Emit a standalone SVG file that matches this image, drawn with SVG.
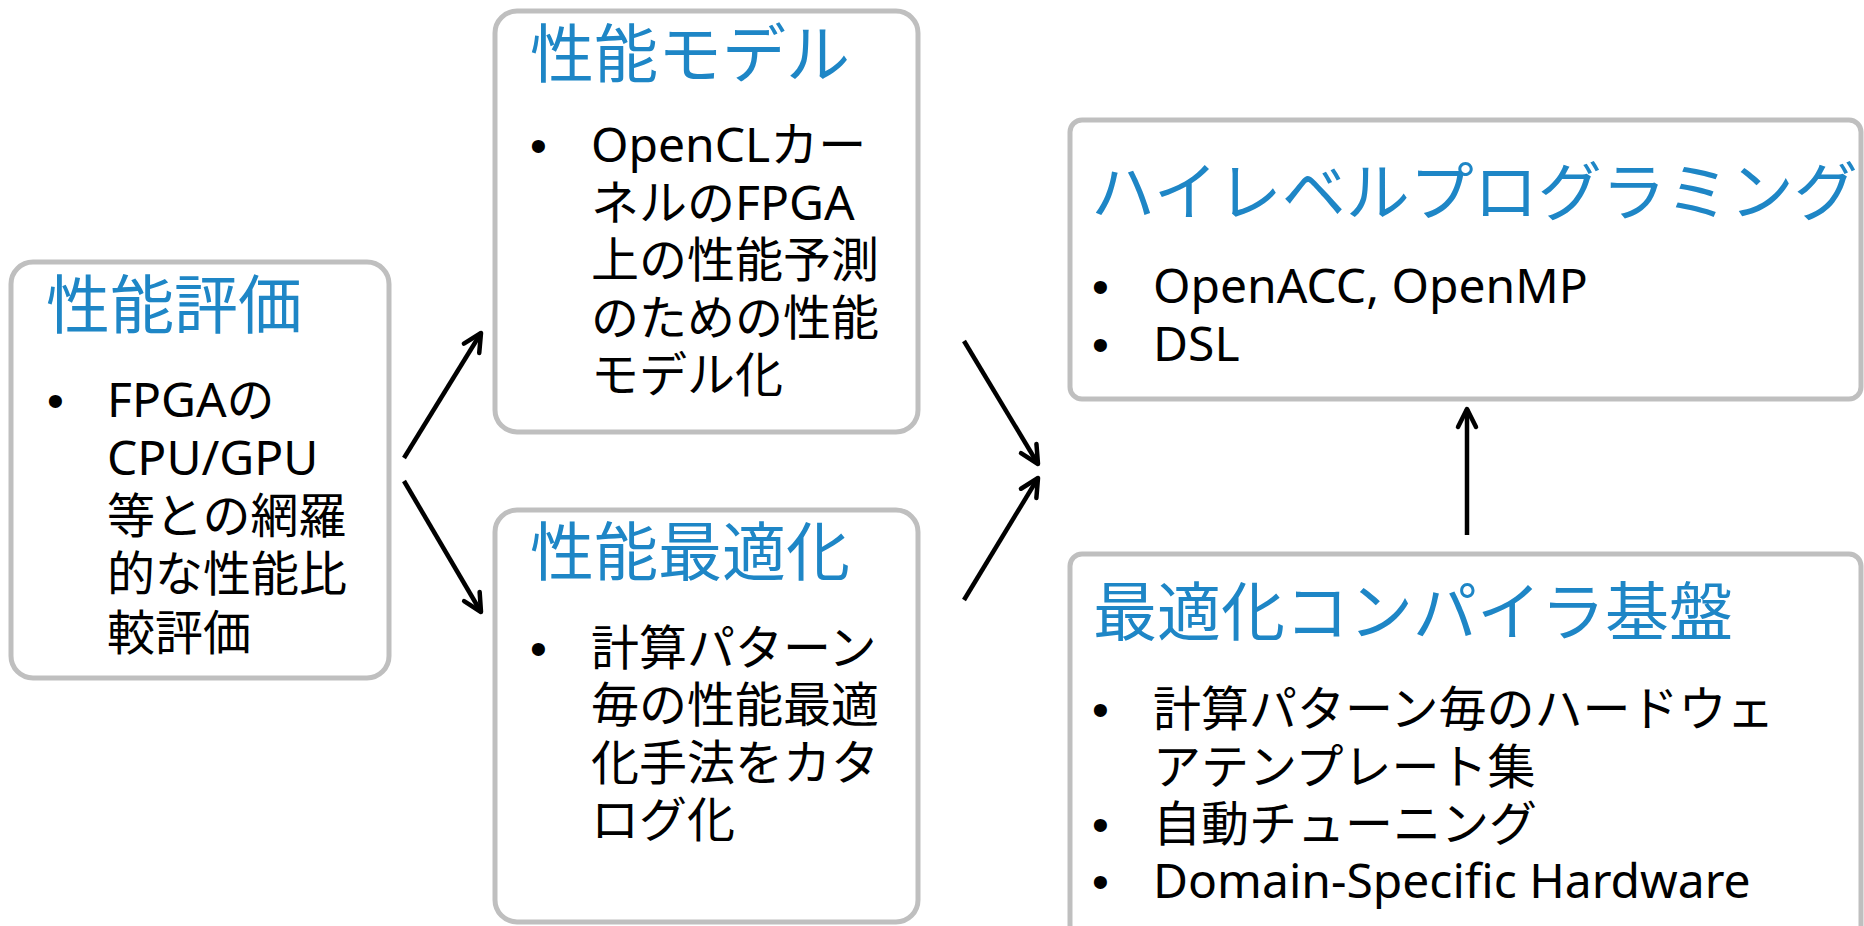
<svg xmlns="http://www.w3.org/2000/svg" width="1864" height="926" viewBox="0 0 1864 926">
<style>
.box{fill:#fff;stroke:#BFBFBF;stroke-width:5}
.title{font-family:"Noto Sans","Noto Sans CJK JP",sans-serif;font-size:64px;fill:#1E86C6}
.body{font-family:"Noto Sans","Noto Sans CJK JP",sans-serif;font-size:48px;fill:#000}
.bul{font-family:"Liberation Sans",Arial,sans-serif;font-size:48px;fill:#000}
.conn{stroke:#000;stroke-width:4.5;fill:none;marker-end:url(#arr)}
</style>
<defs>
<marker id="arr" markerUnits="userSpaceOnUse" markerWidth="30" markerHeight="30" refX="22" refY="12" orient="auto" viewBox="0 0 30 24">
<path d="M4,3 L22,12 L4,21" fill="none" stroke="#000" stroke-width="4.5" stroke-linecap="round" stroke-linejoin="round"/>
</marker>
</defs>
<rect width="1864" height="926" fill="#fff"/>
<g id="connectors">
<line class="conn" x1="404" y1="458" x2="481" y2="333"/>
<line class="conn" x1="404" y1="481" x2="481" y2="612"/>
<line class="conn" x1="964" y1="341" x2="1038" y2="464"/>
<line class="conn" x1="964" y1="600" x2="1038" y2="478"/>
<line class="conn" x1="1467" y1="535" x2="1467" y2="409"/>
</g>
<g id="node-eval">
<rect class="box" x="11" y="262" width="378" height="416" rx="22"/>
<text class="title" x="46" y="328">性能評価</text>
<text class="bul" x="47" y="417">•</text>
<text class="body" x="107" y="417">FPGAの</text>
<text class="body" x="107" y="475">CPU/GPU</text>
<text class="body" x="107" y="533">等との網羅</text>
<text class="body" x="107" y="591">的な性能比</text>
<text class="body" x="107" y="650">較評価</text>
</g>
<g id="node-model">
<rect class="box" x="495" y="11" width="423" height="421" rx="22"/>
<text class="title" x="530" y="77">性能モデル</text>
<text class="bul" x="530" y="162">•</text>
<text class="body" x="591" y="162">OpenCLカー</text>
<text class="body" x="591" y="220">ネルのFPGA</text>
<text class="body" x="591" y="277">上の性能予測</text>
<text class="body" x="591" y="335">のための性能</text>
<text class="body" x="591" y="392">モデル化</text>
</g>
<g id="node-opt">
<rect class="box" x="495" y="510" width="423" height="412" rx="22"/>
<text class="title" x="530" y="575">性能最適化</text>
<text class="bul" x="530" y="665">•</text>
<text class="body" x="591" y="665">計算パターン</text>
<text class="body" x="591" y="722">毎の性能最適</text>
<text class="body" x="591" y="780">化手法をカタ</text>
<text class="body" x="591" y="837">ログ化</text>
</g>
<g id="node-highlevel">
<rect class="box" x="1070" y="120" width="791" height="279" rx="12"/>
<text class="title" x="1091" y="215">ハイレベルプログラミング</text>
<text class="bul" x="1092" y="303">•</text>
<text class="body" x="1153" y="303">OpenACC, OpenMP</text>
<text class="bul" x="1092" y="361">•</text>
<text class="body" x="1153" y="361">DSL</text>
</g>
<g id="node-compiler">
<rect class="box" x="1070" y="554" width="791" height="420" rx="12"/>
<text class="title" x="1093" y="635">最適化コンパイラ基盤</text>
<text class="bul" x="1092" y="726">•</text>
<text class="body" x="1153" y="726">計算パターン毎のハードウェ</text>
<text class="body" x="1153" y="784">アテンプレート集</text>
<text class="bul" x="1092" y="841">•</text>
<text class="body" x="1153" y="841">自動チューニング</text>
<text class="bul" x="1092" y="898">•</text>
<text class="body" x="1153" y="898">Domain-Specific Hardware</text>
</g>
</svg>
